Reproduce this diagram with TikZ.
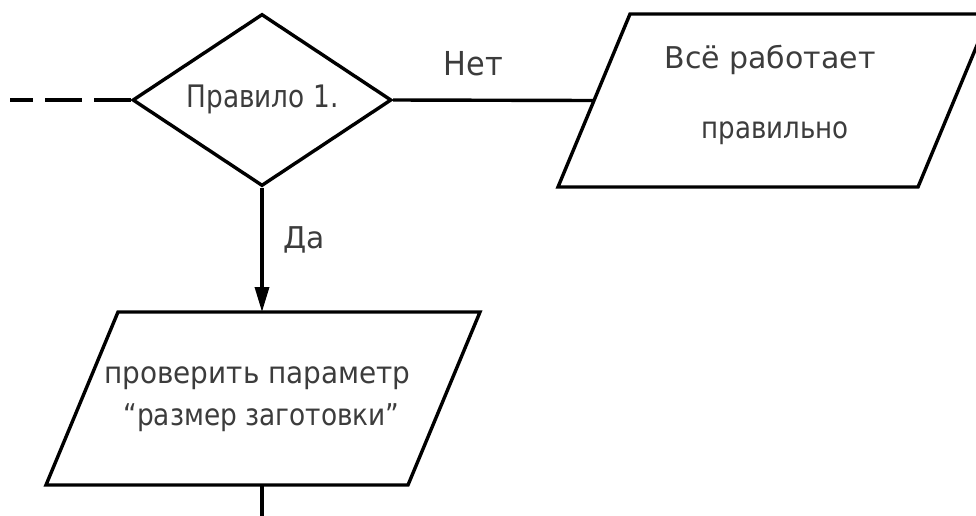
\documentclass[tikz,border=0pt]{standalone}
\usepackage{fontspec}
\setmainfont{DejaVu Sans}
\usetikzlibrary{shapes.geometric,arrows.meta}
\definecolor{ink}{HTML}{3C3C3C}
\tikzset{
  flow/.style={line width=3.4pt, draw=black, line join=miter},
  decision/.style={flow, diamond, minimum width=259pt, minimum height=172pt, inner sep=0pt},
  lbl/.style 2 args={text=ink, inner sep=0pt, anchor=base,
    font=\fontsize{#1}{#1}\selectfont\addfontfeature{FakeStretch=#2}},
  link/.style={line width=3.4pt},
}
\begin{document}
\begin{tikzpicture}[x=1pt,y=-1pt]
\useasboundingbox (0,0) rectangle (976,515);
\clip (0,0) rectangle (976,515);

% decision
\node[decision] (rule) at (262,100) {};
\node[lbl={31}{0.85}] (ruletxt) at (262.5,107) {Правило 1.};

% output block on the right
\coordinate (ok-tl) at (630,14);
\coordinate (ok-tr) at (990,14);
\coordinate (ok-br) at (918,187);
\coordinate (ok-bl) at (558,187);
\coordinate (ok-w) at (594,100.5);
\draw[flow] (ok-tl) -- (ok-tr) -- (ok-br) -- (ok-bl) -- cycle;
\node[lbl={30}{1.0}] (oktxt1) at (770,68) {Всё работает};
\node[lbl={30}{0.87}] (oktxt2) at (775,138) {правильно};

% data block below
\coordinate (check-tl) at (118,312);
\coordinate (check-tr) at (480,312);
\coordinate (check-br) at (408,485);
\coordinate (check-bl) at (46,485);
\coordinate (check-n) at (262,312);
\coordinate (check-s) at (262,485);
\draw[flow] (check-tl) -- (check-tr) -- (check-br) -- (check-bl) -- cycle;
\node[lbl={30}{0.93}] (checktxt1) at (257.5,383) {проверить параметр};
\node[lbl={30}{0.88}] (checktxt2) at (261.5,425) {“размер заготовки”};

\coordinate (from) at (10,100);
\coordinate (next) at (262,530);

\draw[link, dash pattern=on 37pt off 12pt] (rule.west) -- (from);
\draw[link] (rule.east) -- (ok-w);
\node[lbl={33}{0.92}] (no) at (473.5,75) {Нет};
\draw[link, -{Triangle[length=25pt,width=14pt]}] (rule.south) -- (check-n);
\node[lbl={30}{0.99}] (yes) at (304,248) {Да};
\draw[link] (check-s) -- (next);
\end{tikzpicture}
\end{document}
